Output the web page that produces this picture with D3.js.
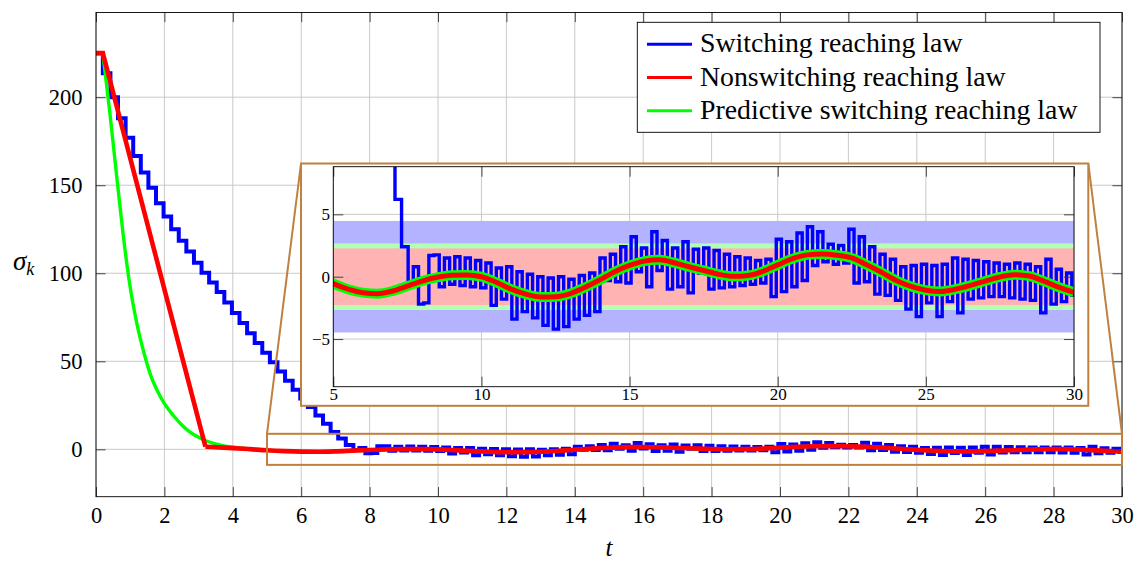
<!DOCTYPE html>
<html>
<head>
<meta charset="utf-8">
<script src="https://cdn.jsdelivr.net/npm/d3@7"></script>
<style>
  body { margin: 0; background: #fff; }
  svg text { font-family: "Liberation Serif", serif; }
</style>
</head>
<body>
<svg id="chart" width="1138" height="563" font-family="Liberation Serif, serif"></svg>
<script>
// ---------- data ----------
// Switching reaching law: sampled sliding variable (held between samples)
const blueHold = 0.2;        // first sample held until this time
const blueStep = 0.222;      // sampling period during reaching phase
const blueReach = [225, 213.6, 200.0, 188.1, 177.0, 166.6, 157.2, 148.6, 139.8, 132.2,
  125.0, 118.5, 112.3, 106.0, 100.3, 94.7, 89.4, 83.4, 77.5, 71.7,
  66.0, 60.4, 54.9, 49.5, 44.2, 39.0, 33.9, 28.9, 24.0, 19.2,
  14.5, 9.8, 6.2, 2.4];
// quasi-sliding phase (chattering around the disturbance)
const chatterStart = 7.526;
const chatterStep = 0.175;
const blueChatter = [-0.4, 0.8, -2.2, -2.1, 1.7, 1.75, -0.8, 1.5, -0.6, 1.6,
  -0.7, 1.5, -0.8, 1.3, -0.9, 1.1, -2.3, 0.7, -1.8, 0.8,
  -3.4, 0.4, -2.8, 0.2, -3.3, 0.0, -3.9, -0.1, -4.2, 0.0,
  -4.0, -0.2, -3.4, 0.1, -3.1, 0.3, -2.8, 1.5, -0.3, 1.8,
  -0.4, 2.4, -0.5, 3.2, 0.4, 2.3, -0.8, 3.6, 0.5, 2.9,
  -1.0, 2.3, -0.8, 2.8, -1.3, 2.2, 0.3, 2.3, -1.0, 2.1,
  -0.9, 1.8, -0.8, 1.6, -0.7, 1.5, -0.6, 1.3, -0.5, 1.4,
  -1.6, 3.0, -1.2, 2.8, -0.8, 3.5, -0.3, 4.0, 0.9, 3.6,
  1.2, 2.6, 1.0, 2.5, 1.1, 3.8, -0.5, 3.2, -0.4, 2.4,
  -1.4, 1.8, -1.5, 1.4, -1.9, 0.8, -2.6, 0.9, -3.2, 1.0,
  -2.1, 0.9, -3.2, 1.0, -2.0, 1.5, -2.9, 1.4, -1.8, 1.3,
  -1.7, 1.2, -1.6, 1.1, -1.6, 1.0, -1.7, 1.1, -1.8, 1.0,
  -1.9, 0.8, -2.9, 1.4, -2.2, 0.6, -2.0, 0.3, -1.5];

// Nonswitching reaching law: linear reaching phase, then tracking
const redReachT = [0, 0.2, 3.2];
const redReachV = [225, 225, 1.5];
const redTrackT = [3.2, 3.6, 4, 4.5, 5, 5.5, 6, 6.5, 7, 7.5, 8, 8.5, 9, 9.5, 10, 10.5,
  11, 11.5, 12, 12.5, 13, 13.5, 14, 14.5, 15, 15.5, 16, 16.5, 17, 17.5, 18, 18.5,
  19, 19.5, 20, 20.5, 21, 21.5, 22, 22.5, 23, 23.5, 24, 24.5, 25, 25.5, 26, 26.5,
  27, 27.5, 28, 28.5, 29, 29.5, 30];
const redTrackV = [1.5, 1.1, 0.7, 0.1, -0.55, -1.0, -1.28, -1.36, -1.15, -0.75, -0.35, -0.05,
  0.12, 0.14, 0.0, -0.45, -1.0, -1.4, -1.62, -1.6, -1.35, -0.85, -0.25, 0.4, 0.9, 1.25,
  1.35, 1.12, 0.8, 0.5, 0.2, 0.03, 0.1, 0.43, 0.95, 1.45, 1.75, 1.82, 1.72, 1.5, 0.95,
  0.35, -0.3, -0.78, -1.08, -1.18, -1.0, -0.7, -0.35, -0.02, 0.16, 0.05, -0.38, -0.85, -1.25];

// Predictive switching reaching law
const greenT = [0.2, 0.4, 0.6, 0.8, 1.0, 1.2, 1.4, 1.6, 1.8, 2.0, 2.25, 2.5, 2.75, 3.0,
  3.25, 3.5, 3.75, 4.0, 4.5, 5, 5.5, 6, 6.5, 7, 7.5, 8, 8.5, 9, 9.5, 10, 10.5,
  11, 11.5, 12, 12.5, 13, 13.5, 14, 14.5, 15, 15.5, 16, 16.5, 17, 17.5, 18, 18.5,
  19, 19.5, 20, 20.5, 21, 21.5, 22, 22.5, 23, 23.5, 24, 24.5, 25, 25.5, 26, 26.5,
  27, 27.5, 28, 28.5, 29, 29.5, 30];
const greenV = [225, 192, 156, 121, 92, 71, 55, 42, 33, 26, 19.5, 14, 9.8, 6.8,
  4.6, 3.1, 2.0, 1.2, 0.2, -0.55, -1.0, -1.28, -1.36, -1.15, -0.75, -0.35, -0.05, 0.12,
  0.14, 0.0, -0.45, -1.0, -1.4, -1.62, -1.6, -1.35, -0.85, -0.25, 0.4, 0.9, 1.25,
  1.35, 1.12, 0.8, 0.5, 0.2, 0.03, 0.1, 0.43, 0.95, 1.45, 1.75, 1.82, 1.72, 1.5, 0.95,
  0.35, -0.3, -0.78, -1.08, -1.18, -1.0, -0.7, -0.35, -0.02, 0.16, 0.05, -0.38, -0.85, -1.25];

const xTicks = [0, 2, 4, 6, 8, 10, 12, 14, 16, 18, 20, 22, 24, 26, 28, 30];
const yTicks = [0, 50, 100, 150, 200];
const insetXTicks = [5, 10, 15, 20, 25, 30];
const insetYTicks = [-5, 0, 5];

// horizontal bands of the zoomed view (half-widths)
const bandLimits = [4.47, 2.67, 2.27];
const bandColors = ["#b3b3ff", "#b3ffb3", "#ffb3b3"];

const seriesNames = ["Switching reaching law", "Nonswitching reaching law", "Predictive switching reaching law"];
const seriesColors = ["#0000ff", "#ff0000", "#00ff00"];

// ---------- layout ----------
const FONT = "Liberation Serif, serif";
const svg = d3.select("#chart");
const brown = "#bf8040";
const gridColor = "#c4c4c4";

const x = d3.scaleLinear().domain([0, 30]).range([96, 1122]);
const y = d3.scaleLinear().domain([-26.9, 248.1]).range([496.7, 12.5]);

const zoomX = [5, 30], zoomY = [-8.82, 8.82];
const xi = d3.scaleLinear().domain(zoomX).range([333.3, 1074]);
const yi = d3.scaleLinear().domain(zoomY).range([386.7, 166.7]);

// points
const bluePts = blueReach.map((v, k) => [k === 0 ? 0 : blueHold + (k - 1) * blueStep, v])
  .concat(blueChatter.map((v, j) => [chatterStart + j * chatterStep, v]));
bluePts.push([30, blueChatter[blueChatter.length - 1]]);
const redReachPts = redReachT.map((t, i) => [t, redReachV[i]]);
const redTrackPts = redTrackT.map((t, i) => [t, redTrackV[i]]);
const greenPts = [[0, 225]].concat(greenT.map((t, i) => [t, greenV[i]]));

const defs = svg.append("defs");
defs.append("clipPath").attr("id", "clipMain").append("rect")
  .attr("x", x(0)).attr("y", y.range()[1]).attr("width", x(30) - x(0)).attr("height", y.range()[0] - y.range()[1]);
defs.append("clipPath").attr("id", "clipInset").append("rect")
  .attr("x", xi(5)).attr("y", yi(zoomY[1])).attr("width", xi(30) - xi(5)).attr("height", yi(zoomY[0]) - yi(zoomY[1]));

function drawGrid(g, sx, sy, xt, yt) {
  const [x0, x1] = sx.range();
  const [y0, y1] = sy.range();
  g.append("g").selectAll("line").data(xt).join("line")
    .attr("x1", d => sx(d)).attr("x2", d => sx(d)).attr("y1", y1).attr("y2", y0)
    .attr("stroke", gridColor).attr("stroke-width", 0.9);
  g.append("g").selectAll("line").data(yt).join("line")
    .attr("x1", x0).attr("x2", x1).attr("y1", d => sy(d)).attr("y2", d => sy(d))
    .attr("stroke", gridColor).attr("stroke-width", 0.9);
}

function drawAxes(g, sx, sy, xt, yt, opts) {
  const [x0, x1] = sx.range();
  const [y0, y1] = sy.range();
  const fmt = d => (d < 0 ? "\u2212" + Math.abs(d) : String(d));
  const ax = [
    g.append("g").attr("transform", `translate(0,${y0})`)
      .call(d3.axisBottom(sx).tickValues(xt).tickSizeInner(-opts.tick).tickSizeOuter(0).tickPadding(opts.padX).tickFormat(fmt)),
    g.append("g").attr("transform", `translate(0,${y1})`)
      .call(d3.axisTop(sx).tickValues(xt).tickSizeInner(-opts.tick).tickSizeOuter(0).tickFormat("")),
    g.append("g").attr("transform", `translate(${x0},0)`)
      .call(d3.axisLeft(sy).tickValues(yt).tickSizeInner(-opts.tick).tickSizeOuter(0).tickPadding(opts.padY).tickFormat(fmt)),
    g.append("g").attr("transform", `translate(${x1},0)`)
      .call(d3.axisRight(sy).tickValues(yt).tickSizeInner(-opts.tick).tickSizeOuter(0).tickFormat(""))
  ];
  ax.forEach(a => {
    a.attr("font-family", FONT).attr("font-size", opts.font);
    a.select(".domain").remove();
    a.selectAll(".tick line").attr("stroke", "#333").attr("stroke-width", 0.9);
    a.selectAll("text").attr("fill", "#000").attr("font-family", FONT).attr("font-size", opts.font);
  });
  g.append("rect").attr("x", x0).attr("y", y1).attr("width", x1 - x0).attr("height", y0 - y1)
    .attr("fill", "none").attr("stroke", "#000").attr("stroke-width", 0.9);
}

// ---------- main panel ----------
const main = svg.append("g");
drawGrid(main, x, y, xTicks, yTicks);

const lines = main.append("g").attr("clip-path", "url(#clipMain)");
const stepLine = d3.line().x(d => x(d[0])).y(d => y(d[1])).curve(d3.curveStepAfter);
const straight = d3.line().x(d => x(d[0])).y(d => y(d[1]));
const smooth = d3.line().x(d => x(d[0])).y(d => y(d[1])).curve(d3.curveMonotoneX);

lines.append("path").attr("d", stepLine(bluePts)).attr("fill", "none")
  .attr("stroke", seriesColors[0]).attr("stroke-width", 4);
lines.append("path").attr("d", straight(greenPts.slice(0, 2))).attr("fill", "none")
  .attr("stroke", seriesColors[2]).attr("stroke-width", 3.4);
lines.append("path").attr("d", smooth(greenPts.slice(1))).attr("fill", "none")
  .attr("stroke", seriesColors[2]).attr("stroke-width", 3.4);
lines.append("path").attr("d", straight(redReachPts)).attr("fill", "none")
  .attr("stroke", seriesColors[1]).attr("stroke-width", 4.6).attr("stroke-linejoin", "miter");
lines.append("path").attr("d", smooth(redTrackPts)).attr("fill", "none")
  .attr("stroke", seriesColors[1]).attr("stroke-width", 4.6);

drawAxes(main, x, y, xTicks, yTicks, { tick: 9.6, padX: 10.3, padY: 13.5, font: 22.5 });

// axis labels
svg.append("text").attr("x", x(15)).attr("y", 556).attr("text-anchor", "middle")
  .attr("font-family", FONT).attr("font-size", 25).attr("font-style", "italic").text("t");
const yl = svg.append("text").attr("x", 13).attr("y", 270).attr("font-family", FONT).attr("font-size", 27);
yl.append("tspan").attr("font-style", "italic").text("\u03c3");
yl.append("tspan").attr("dy", 5).attr("font-size", 18).attr("font-style", "italic").text("k");

// ---------- zoom marker and connectors ----------
main.append("rect")
  .attr("x", x(zoomX[0])).attr("y", y(zoomY[1]))
  .attr("width", x(zoomX[1]) - x(zoomX[0])).attr("height", y(zoomY[0]) - y(zoomY[1]))
  .attr("fill", "none").attr("stroke", brown).attr("stroke-width", 2);

const frame = { x0: 301, y0: 163.5, x1: 1088.3, y1: 405.8 };
svg.append("line").attr("x1", x(zoomX[0])).attr("y1", y(zoomY[1])).attr("x2", frame.x0).attr("y2", frame.y0)
  .attr("stroke", brown).attr("stroke-width", 2);
svg.append("line").attr("x1", x(zoomX[1])).attr("y1", y(zoomY[1])).attr("x2", frame.x1).attr("y2", frame.y0)
  .attr("stroke", brown).attr("stroke-width", 2);

// ---------- inset ----------
const inset = svg.append("g");
inset.append("rect").attr("x", frame.x0).attr("y", frame.y0)
  .attr("width", frame.x1 - frame.x0).attr("height", frame.y1 - frame.y0)
  .attr("fill", "#fff").attr("stroke", brown).attr("stroke-width", 2);

drawGrid(inset, xi, yi, insetXTicks, insetYTicks);

const ib = inset.append("g").attr("clip-path", "url(#clipInset)");
ib.selectAll("rect").data(bandLimits).join("rect")
  .attr("x", xi(zoomX[0])).attr("width", xi(zoomX[1]) - xi(zoomX[0]))
  .attr("y", d => yi(d)).attr("height", d => yi(-d) - yi(d))
  .attr("fill", (d, i) => bandColors[i]);

const iStep = d3.line().x(d => xi(d[0])).y(d => yi(d[1])).curve(d3.curveStepAfter);
const iSmooth = d3.line().x(d => xi(d[0])).y(d => yi(d[1])).curve(d3.curveMonotoneX);
ib.append("path").attr("d", iStep(bluePts.filter(d => d[0] >= 6))).attr("fill", "none")
  .attr("stroke", seriesColors[0]).attr("stroke-width", 3.4);
ib.append("path").attr("d", iSmooth(greenPts.filter(d => d[0] >= 4))).attr("fill", "none")
  .attr("stroke", seriesColors[2]).attr("stroke-width", 10);
ib.append("path").attr("d", iSmooth(redTrackPts)).attr("fill", "none")
  .attr("stroke", seriesColors[1]).attr("stroke-width", 5);

drawAxes(inset, xi, yi, insetXTicks, insetYTicks, { tick: 10, padX: 1.5, padY: 3.3, font: 17 });

// ---------- legend ----------
const leg = svg.append("g");
leg.append("rect").attr("x", 637.3).attr("y", 22.3).attr("width", 462.7).attr("height", 110)
  .attr("fill", "#fff").attr("stroke", "#000").attr("stroke-width", 0.9);
const legRows = leg.selectAll("g.row").data(seriesNames).join("g").attr("class", "row")
  .attr("transform", (d, i) => `translate(0,${44.3 + i * 33.2})`);
legRows.append("line").attr("x1", 647).attr("x2", 692).attr("y1", 0).attr("y2", 0)
  .attr("stroke", (d, i) => seriesColors[i]).attr("stroke-width", 3);
legRows.append("text").attr("x", 700).attr("y", 8).attr("font-family", FONT).attr("font-size", 27.8).text(d => d);
</script>
</body>
</html>
